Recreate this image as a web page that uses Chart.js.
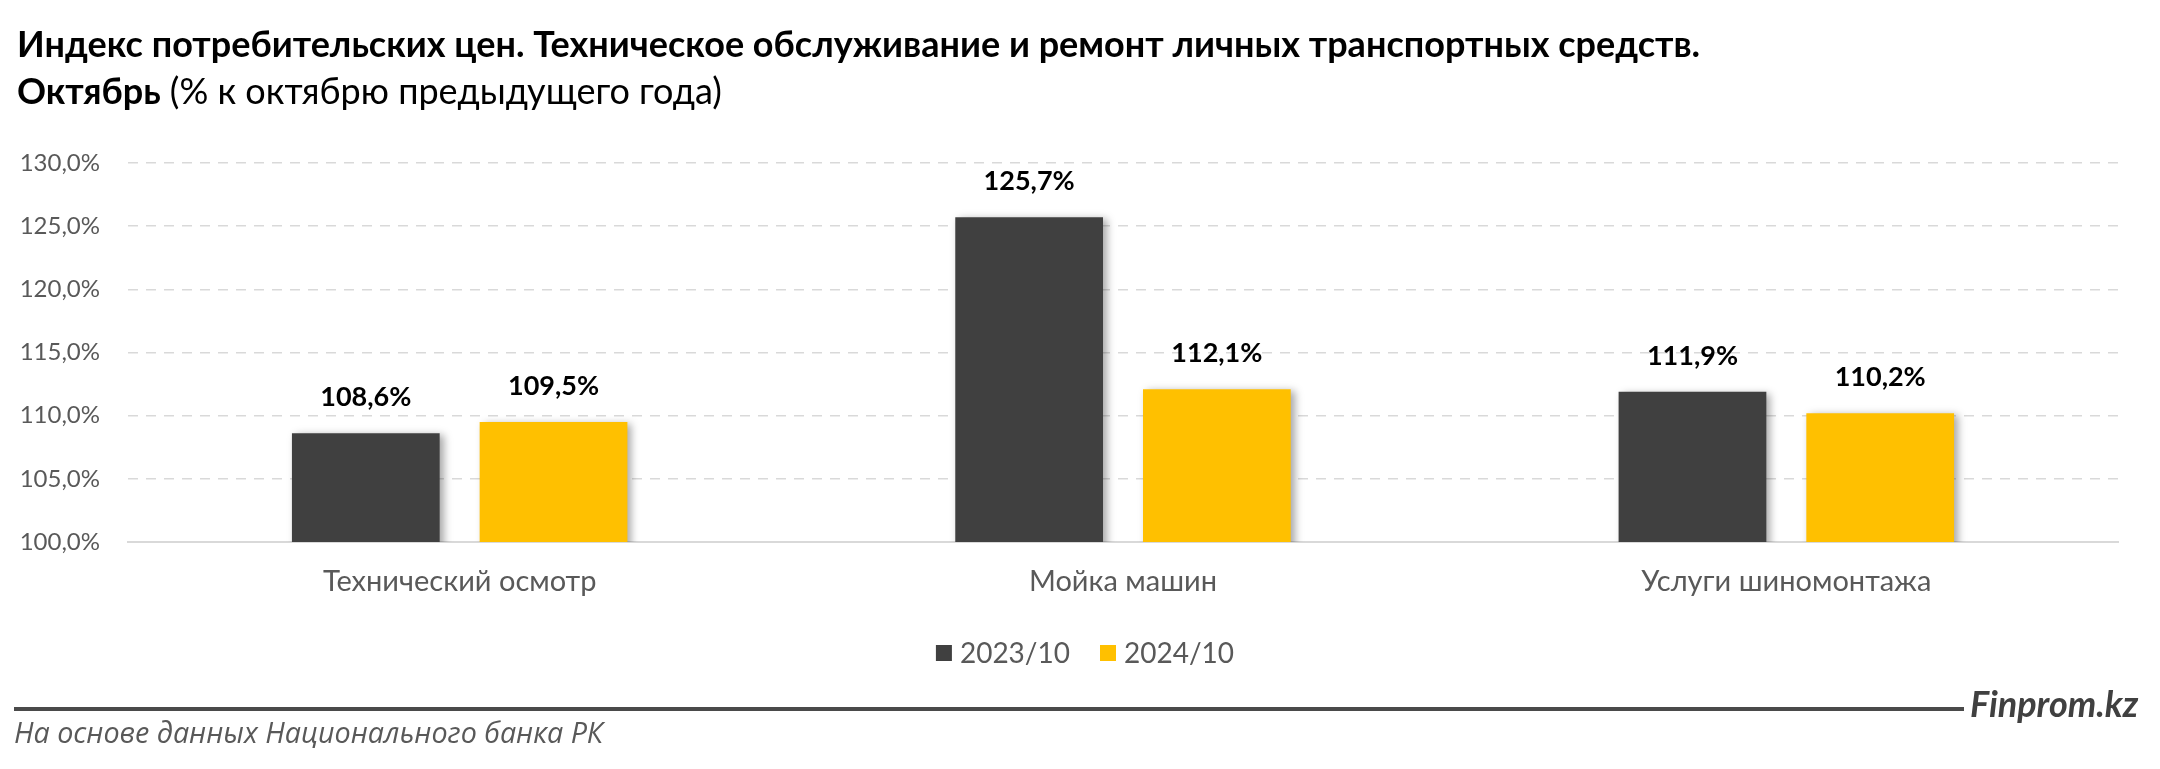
<!DOCTYPE html>
<html>
<head>
<meta charset="utf-8">
<script src="https://cdn.jsdelivr.net/npm/chart.js@4"></script>
<style>
  html,body{margin:0;padding:0;background:#fff;}
  #wrap{width:2160px;height:769px;position:relative;}
</style>
</head>
<body>
<div id="wrap"><canvas id="c" width="2160" height="769"></canvas></div>
<script>
const categories = ['Технический осмотр', 'Мойка машин', 'Услуги шиномонтажа'];
const seriesNames = ['2023/10', '2024/10'];
const values2023 = [108.6, 125.7, 111.9];
const values2024 = [109.5, 112.1, 110.2];
const yTicks = [100, 105, 110, 115, 120, 125, 130];
const titleLine1 = 'Индекс потребительских цен. Техническое обслуживание и ремонт личных транспортных средств.';
const titleBold2 = 'Октябрь';
const titleRest2 = ' (% к октябрю предыдущего года)';
const sourceText = 'На основе данных Национального банка РК';
const brandText = 'Finprom.kz';

const colors = ['#404040', '#FFC000'];
const fmt = v => v.toFixed(1).replace('.', ',') + '%';

const decor = {
  id: 'decor',
  beforeDatasetsDraw(chart) {
    const ctx = chart.ctx;
    ctx.save();
    ctx.shadowColor = 'rgba(0,0,0,0.35)';
    ctx.shadowBlur = 8;
    ctx.shadowOffsetX = 4;
    ctx.shadowOffsetY = 2;
  },
  afterDatasetsDraw(chart) {
    const ctx = chart.ctx;
    ctx.restore();
    ctx.save();
    ctx.font = 'bold 27px Lato';
    ctx.fillStyle = '#000';
    ctx.textAlign = 'center';
    ctx.textBaseline = 'alphabetic';
    chart.data.datasets.forEach((ds, di) => {
      chart.getDatasetMeta(di).data.forEach((bar, i) => {
        ctx.fillText(fmt(ds.data[i]), bar.x, bar.y - 27);
      });
    });
    ctx.restore();
  },
  afterDraw(chart) {
    const ctx = chart.ctx;
    ctx.save();
    // Title
    ctx.fillStyle = '#000';
    ctx.textBaseline = 'alphabetic';
    ctx.textAlign = 'left';
    ctx.font = 'bold 36px Lato';
    ctx.fillText(titleLine1, 17, 57);
    ctx.fillText(titleBold2, 17, 104);
    const w = ctx.measureText(titleBold2).width;
    ctx.font = '36px Lato';
    ctx.fillText(titleRest2, 17 + w, 104);

    // Legend
    ctx.font = '28px Lato';
    ctx.textBaseline = 'middle';
    const box = 16, gapBoxText = 8, gapItems = 30;
    const items = chart.data.datasets.map(ds => ({label: ds.label, color: ds.backgroundColor, w: ctx.measureText(ds.label).width}));
    let total = 0;
    items.forEach((it, k) => { total += box + gapBoxText + it.w + (k < items.length - 1 ? gapItems : 0); });
    let x = 1085 - total / 2;
    const ly = 653;
    items.forEach(it => {
      ctx.fillStyle = it.color;
      ctx.fillRect(x, ly - box / 2, box, box);
      x += box + gapBoxText;
      ctx.fillStyle = '#595959';
      ctx.fillText(it.label, x, ly + 1);
      x += it.w + gapItems;
    });

    // Footer line and texts
    ctx.fillStyle = '#4a4a4a';
    ctx.fillRect(14, 707, 1950, 4);
    ctx.font = 'italic bold 36px Lato';
    ctx.fillStyle = '#404040';
    ctx.textBaseline = 'alphabetic';
    ctx.fillText(brandText, 1970, 717);
    ctx.font = 'italic 28.7px "Open Sans"';
    ctx.fillStyle = '#595959';
    ctx.fillText(sourceText, 14, 743);
    ctx.restore();
  }
};

new Chart(document.getElementById('c'), {
  type: 'bar',
  data: {
    labels: categories,
    datasets: [
      { label: seriesNames[0], data: values2023, backgroundColor: colors[0], categoryPercentage: 0.566, barPercentage: 0.787 },
      { label: seriesNames[1], data: values2024, backgroundColor: colors[1], categoryPercentage: 0.566, barPercentage: 0.787 }
    ]
  },
  options: {
    responsive: false,
    animation: false,
    devicePixelRatio: 1,
    layout: { padding: { left: 0, right: 42, top: 163, bottom: 167 } },
    plugins: { legend: { display: false }, tooltip: { enabled: false }, title: { display: false } },
    scales: {
      x: {
        grid: { display: false, drawTicks: false },
        border: { display: true, color: '#d9d9d9', width: 2 },
        ticks: { font: { family: 'Lato', size: 29 }, color: '#595959', padding: 22 },
        afterFit(axis) { axis.height = 60; }
      },
      y: {
        min: 100, max: 130,
        afterBuildTicks(axis) { axis.ticks = yTicks.map(v => ({ value: v })); },
        grid: { color: '#d9d9d9', lineWidth: 1.5, drawTicks: false },
        border: { display: false, dash: [10, 8] },
        ticks: { font: { family: 'Lato', size: 24 }, color: '#595959', padding: 28, callback: v => fmt(v) },
        afterFit(axis) { axis.width = 128; }
      }
    }
  },
  plugins: [decor]
});
</script>
</body>
</html>
